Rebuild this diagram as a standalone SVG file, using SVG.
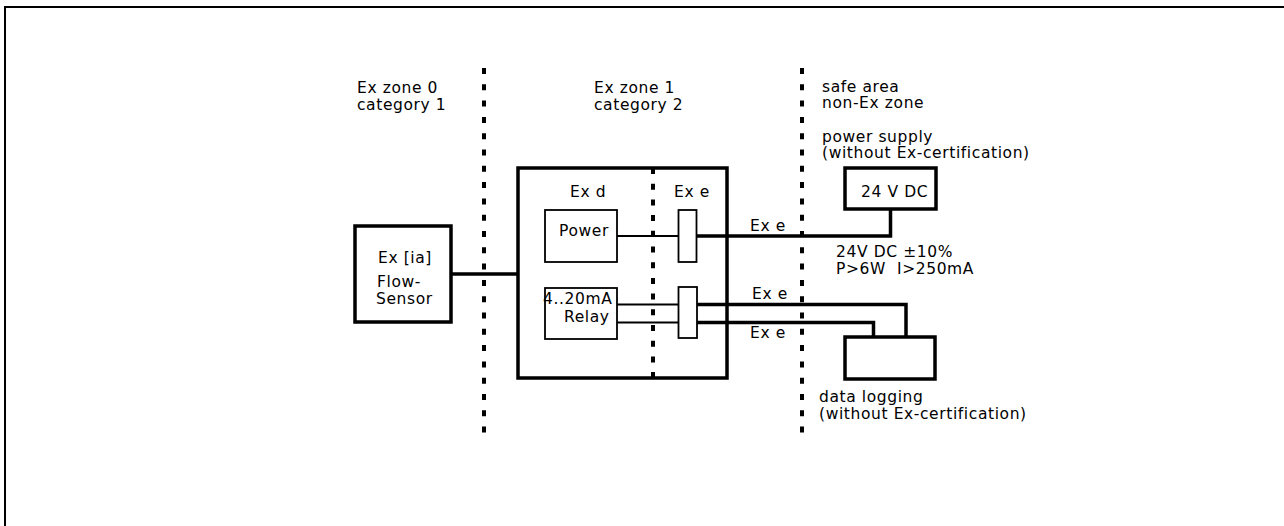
<svg xmlns="http://www.w3.org/2000/svg" width="1284" height="526" viewBox="0 0 1284 526">
<style>
text{font-family:"DejaVu Sans","Liberation Sans",sans-serif;font-size:15.5px;letter-spacing:0.6px;fill:#000}
.thick{fill:#fff;stroke:#000;stroke-width:3.5}
.thin{fill:#fff;stroke:#000;stroke-width:1.8}
.w{fill:none;stroke:#000;stroke-width:3.5}
.wt{fill:none;stroke:#000;stroke-width:1.8}
.zone{fill:none;stroke:#000;stroke-width:4;stroke-dasharray:6 10.3}
.zone2{fill:none;stroke:#000;stroke-width:4;stroke-dasharray:6 9.7}
</style>
<rect x="0" y="0" width="1284" height="526" fill="#fff"/>
<rect x="5" y="7" width="1300" height="600" fill="none" stroke="#000" stroke-width="2"/>

<g id="zone-lines">
<line class="zone" x1="484" y1="68" x2="484" y2="434"/>
<line class="zone" x1="802" y1="68" x2="802" y2="434"/>
</g>

<g id="zone-labels">
<text x="357" y="93">Ex zone 0</text>
<text x="357" y="109.5">category 1</text>
<text x="594" y="93">Ex zone 1</text>
<text x="594" y="109.5">category 2</text>
<text x="822" y="91.5">safe area</text>
<text x="822" y="108">non-Ex zone</text>
</g>

<g id="transmitter">
<rect class="thick" x="518" y="168" width="209" height="210"/>
<line class="zone2" x1="653" y1="168" x2="653" y2="378"/>
<text x="570" y="197">Ex d</text>
<text x="674" y="197">Ex e</text>
</g>

<g id="power">
<rect class="thin" x="545" y="210" width="72" height="52"/>
<text x="559" y="236">Power</text>
</g>

<g id="relay">
<rect class="thin" x="545" y="288" width="72" height="51"/>
<text x="543" y="304">4..20mA</text>
<text x="564" y="322">Relay</text>
</g>

<g id="sensor">
<rect class="thick" x="355" y="226" width="96" height="96"/>
<text x="378" y="263">Ex [ia]</text>
<text x="377" y="287">Flow-</text>
<text x="376" y="303.5">Sensor</text>
</g>

<g id="connectors">
<line class="w" x1="451" y1="274" x2="518" y2="274"/>
<line class="wt" x1="617" y1="236" x2="678" y2="236"/>
<line class="wt" x1="617" y1="304.5" x2="678" y2="304.5"/>
<line class="wt" x1="617" y1="322.5" x2="678" y2="322.5"/>
<polyline class="w" points="697,236 890.5,236 890.5,209"/>
<polyline class="w" points="697,304.5 906,304.5 906,337"/>
<polyline class="w" points="697,322.5 873.5,322.5 873.5,337"/>
<text x="750" y="231">Ex e</text>
<text x="752" y="299">Ex e</text>
<text x="750" y="337.5">Ex e</text>
</g>

<g id="terminal-1">
<rect class="thin" x="678.5" y="210" width="18" height="52"/>
</g>
<g id="terminal-2">
<rect class="thin" x="678.5" y="287" width="18.5" height="51"/>
</g>

<g id="psu">
<text x="822" y="141.5">power supply</text>
<text x="822" y="158">(without Ex-certification)</text>
<rect class="thick" x="845" y="168" width="91" height="41"/>
<text x="861" y="197">24 V DC</text>
<text x="836" y="257">24V DC ±10%</text>
<text x="836" y="273.5" xml:space="preserve">P&gt;6W  I&gt;250mA</text>
</g>

<g id="data-logging">
<rect class="thick" x="845" y="337" width="90" height="42"/>
<text x="819" y="402">data logging</text>
<text x="819" y="419">(without Ex-certification)</text>
</g>
</svg>
